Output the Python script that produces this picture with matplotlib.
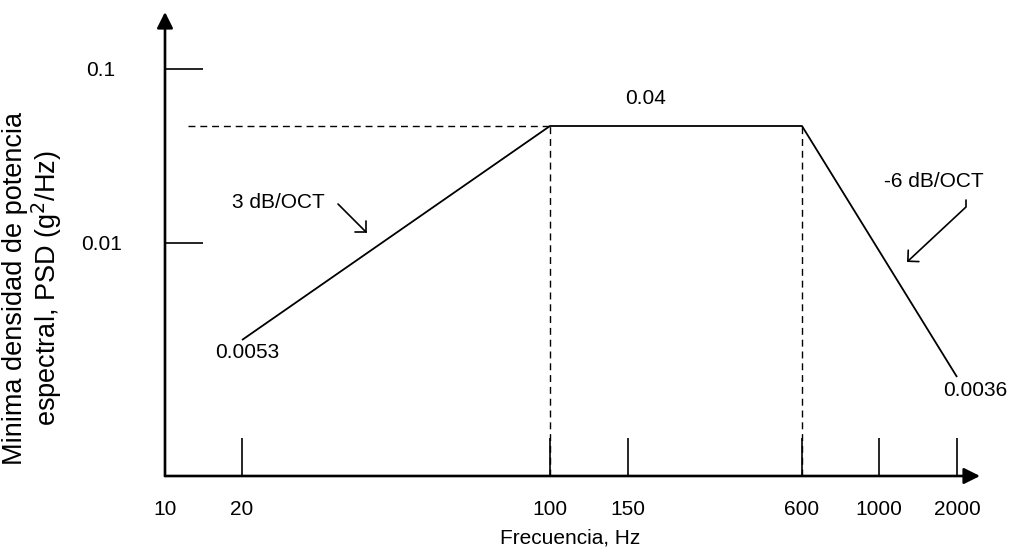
import numpy as np
import matplotlib
matplotlib.use("Agg")
import matplotlib.pyplot as plt

plt.rcParams['font.family'] = ['Liberation Sans', 'DejaVu Sans']

# ---- data ----
freq = [20, 100, 600, 2000]
psd = [0.0053, 0.04, 0.04, 0.0036]
x_ticks = [10, 20, 100, 150, 600, 1000, 2000]
x_tick_labels = ['10', '20', '100', '150', '600', '1000', '2000']
y_ticks = [0.01, 0.1]
y_tick_labels = ['0.01', '0.1']
dashed_freqs = [100, 600]
plateau = 0.04

# ---- schematic (non-uniform) axis calibration of the original drawing ----
W, H = 1011, 551
X_CAL = np.log10([10, 20, 100, 150, 600, 1000, 2000, 2600])
X_PIX = np.array([165, 242, 550, 628, 802, 879, 957, 980], float)
Y_CAL = np.log10([0.001, 0.0036, 0.0053, 0.01, 0.04, 0.1, 0.35])
Y_PIX = np.array([0, 99, 136, 233, 350, 407, 464], float)


def fx(v):
    v = np.clip(np.asarray(v, float), 1e-6, None)
    return np.interp(np.log10(v), X_CAL, X_PIX)


def fx_inv(p):
    return 10 ** np.interp(np.asarray(p, float), X_PIX, X_CAL)


def fy(v):
    v = np.clip(np.asarray(v, float), 1e-9, None)
    return np.interp(np.log10(v), Y_CAL, Y_PIX)


def fy_inv(p):
    return 10 ** np.interp(np.asarray(p, float), Y_PIX, Y_CAL)


def P(x, y):
    return (x / W, 1 - y / H)


fig = plt.figure(figsize=(W / 100, H / 100), dpi=100)
ax = fig.add_axes([165 / W, 1 - 476 / H, (980 - 165) / W, (476 - 12) / H])
ax.set_xscale('function', functions=(fx, fx_inv))
ax.set_yscale('function', functions=(fy, fy_inv))
ax.set_xlim(10, 2600)
ax.set_ylim(0.001, 0.35)

for s in ax.spines.values():
    s.set_visible(False)

# axes with arrows
arrow_kw = dict(arrowstyle='-|>,head_length=0.48,head_width=0.24', lw=1.9,
                color='black', shrinkA=0, shrinkB=0, mutation_scale=20)
ax.annotate('', xy=(0, 1), xytext=(0, 0), xycoords='axes fraction',
            arrowprops=arrow_kw, annotation_clip=False)
ax.annotate('', xy=(1, 0), xytext=(0, 0), xycoords='axes fraction',
            arrowprops=arrow_kw, annotation_clip=False)

# ticks
ax.set_xticks(x_ticks)
ax.set_xticklabels(x_tick_labels)
ax.set_yticks(y_ticks)
ax.set_yticklabels(y_tick_labels)
ax.xaxis.set_minor_locator(matplotlib.ticker.NullLocator())
ax.yaxis.set_minor_locator(matplotlib.ticker.NullLocator())
ax.tick_params(axis='x', direction='in', length=27.5, width=1.2, pad=17.5,
               labelsize=15)
ax.tick_params(axis='y', direction='in', length=27.5, width=1.2, pad=46,
               labelsize=15)
for lab in ax.get_yticklabels():
    lab.set_horizontalalignment('center')

# dashed guides
x0 = fx_inv(188)
ax.plot([x0, dashed_freqs[0]], [plateau, plateau], color='black', lw=1.0,
        dashes=(5, 3.5))
ax.vlines(dashed_freqs, 0.001, plateau, colors='black', lw=1.0,
          linestyles=(0, (5, 3.5)))

# PSD profile
ax.plot(freq, psd, color='black', lw=1.3, solid_capstyle='butt')

# value labels
fig.text(*P(646, 99), '0.04', fontsize=15, ha='center', va='center')
fig.text(*P(247, 353), '0.0053', fontsize=15, ha='center', va='center')
fig.text(*P(975, 391), '0.0036', fontsize=15, ha='center', va='center')

# slope labels with arrows
fig.text(*P(278, 203), '3 dB/OCT', fontsize=15, ha='center', va='center')
fig.text(*P(934, 182), '-6 dB/OCT', fontsize=15, ha='center', va='center')
small = dict(arrowstyle='->,head_length=0.28,head_width=0.28', lw=1.2,
             color='black', shrinkA=0, shrinkB=0, mutation_scale=20)
ax.annotate('', xy=P(367, 233), xytext=P(338, 204), xycoords='figure fraction',
            textcoords='figure fraction', arrowprops=small, annotation_clip=False)
small2 = dict(small, connectionstyle='angle,angleA=90,angleB=43,rad=0')
ax.annotate('', xy=P(907, 262), xytext=P(966, 200), xycoords='figure fraction',
            textcoords='figure fraction', arrowprops=small2, annotation_clip=False)

# axis titles
fig.text(*P(570, 538), 'Frecuencia, Hz', fontsize=15, ha='center', va='center')
fig.text(*P(33, 288), 'Minima densidad de potencia\nespectral, PSD (g$^2$/Hz)',
         fontsize=19.5, ha='center', va='center', rotation=90,
         multialignment='center', linespacing=1.02)

fig.savefig('out.png', dpi=100)
